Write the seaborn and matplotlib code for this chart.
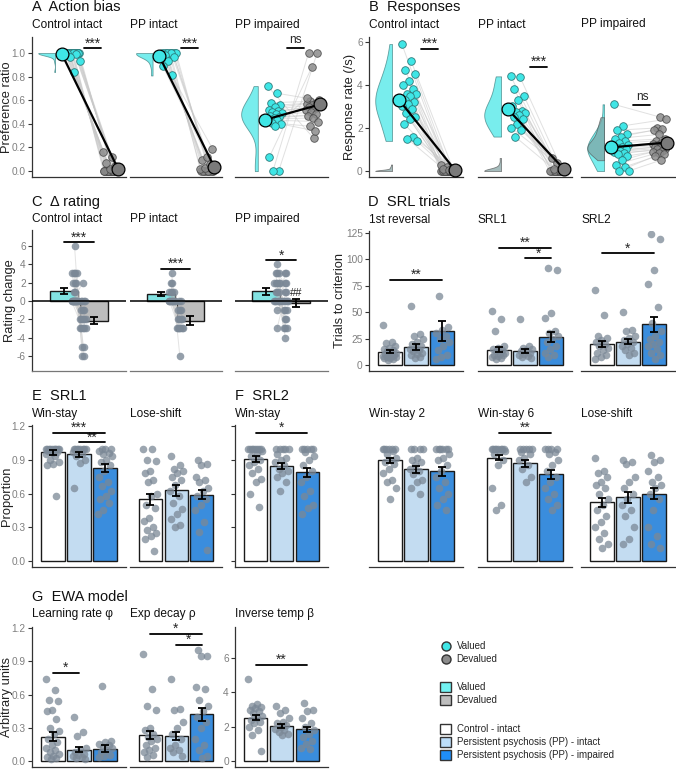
import numpy as np
import pandas as pd
import matplotlib.pyplot as plt
import seaborn as sns
from matplotlib.lines import Line2D
from matplotlib.patches import Patch

# ---- A: action bias (preference ratio), valued vs devalued ----
a_ctrl_val = [1.0] * 19 + [0.99, 0.97, 0.93, 0.84]
a_ctrl_dev = [0.0] * 18 + [0.02, 0.04, 0.07, 0.12, 0.16]
a_ppi_val = [1.0] * 10 + [0.98, 0.97, 0.93, 0.89, 0.81]
a_ppi_dev = [0.0] * 9 + [0.02, 0.03, 0.06, 0.09, 0.12, 0.19]
a_ppm_val = [0.72, 0.66, 0.58, 0.56, 0.54, 0.52, 0.51, 0.5, 0.49, 0.48, 0.47,
             0.46, 0.45, 0.44, 0.43, 0.41, 0.40, 0.38, 0.12, 0.0, 0.0]
a_ppm_dev = [0.28, 0.6, 0.59, 0.58, 0.57, 0.56, 0.55, 0.54, 0.53, 0.52, 0.5,
             0.48, 0.47, 0.45, 0.42, 0.38, 0.34, 0.62, 0.88, 1.0, 1.0]

# ---- B: response rate (/s) ----
b_ctrl_val = [5.9, 5.1, 4.7, 4.5, 4.2, 4.0, 3.8, 3.6, 3.6, 3.5, 3.3, 3.2, 3.1,
              3.0, 2.9, 2.7, 2.5, 2.4, 2.2, 1.6, 1.5, 1.4]
b_ctrl_dev = [0.0] * 17 + [0.3, 0.2, 0.15, 0.1, 0.05]
b_ppi_val = [4.4, 4.35, 3.8, 3.5, 3.3, 3.0, 2.8, 2.75, 2.7, 2.6, 2.5, 2.4, 2.2,
             2.0, 1.9, 1.6]
b_ppi_dev = [0.0] * 12 + [0.6, 0.35, 0.2, 0.1]
b_ppm_val = [3.1, 2.1, 1.9, 1.7, 1.6, 1.5, 1.4, 1.3, 1.2, 1.1, 1.05, 1.0, 0.95,
             0.9, 0.85, 0.8, 0.7, 0.5, 0.3, 0.2, 0.0, 0.0]
b_ppm_dev = [2.5, 2.4, 2.0, 1.95, 1.9, 1.7, 1.5, 1.4, 1.3, 1.25, 1.2, 1.15, 1.1,
             1.05, 1.0, 1.0, 0.95, 0.9, 0.85, 0.8, 0.7, 0.5]

# ---- C: rating change, bars = mean, whiskers = SEM ----
c_means = [[1.12, -2.15], [0.74, -2.15], [1.05, -0.25]]
c_sems = [[0.33, 0.4], [0.25, 0.5], [0.38, 0.43]]
c_ctrl_val = [6, 3, 3, 3, 3, 2, 2, 2, 1, 1] + [0] * 12
c_ctrl_dev = [-6, -3, -5, -2, -6, -1, -3, -2, 0, -5, -3, -2, 2, -1, -2, -3, -1,
              0, -2, -3, 0, 0]
c_ppi_val = [3, 2, 2, 1, 1, 1, 1] + [0] * 9
c_ppi_dev = [-6, -3, -2, -1, -3, -2, -1, 0, -3, -2, -3, -1, 0, -3, -2, -3]
c_ppm_val = [4, 3, 3, 3, 2, 2, 2, 2, 1, 1, 1, 0, 0, 0, 0, 0, 0, -1, -3, 2]
c_ppm_dev = [0, -3, 2, 3, -1, 0, -2, -3, 1, -4, 0, -1, 3, 2, -3, 0, -2, -1, 1, 0]

# ---- D: trials to criterion (control, PP intact, PP impaired) ----
d_rev_mean, d_rev_sem = [12.8, 17.5, 32.3], [1.7, 2.7, 9.0]
d_srl1_mean, d_srl1_sem = [14.6, 13.3, 26.6], [2.5, 2.0, 4.5]
d_srl2_mean, d_srl2_sem = [20.3, 22.2, 38.8], [3.0, 2.5, 7.0]
d_rev_pts = [[38, 22, 21, 18, 16, 15, 14, 13, 12, 12, 11, 10, 10, 9, 9, 8, 8, 7, 7, 6, 5],
             [56, 29, 28, 25, 22, 20, 18, 16, 15, 14, 13, 12, 11, 10, 8, 7],
             [65, 36, 33, 30, 28, 25, 22, 18, 14, 10, 8, 6]]
d_srl1_pts = [[51, 44, 32, 18, 16, 15, 14, 13, 12, 11, 10, 10, 9, 8, 7, 6],
              [44, 18, 16, 15, 14, 13, 12, 11, 10, 9, 8, 7],
              [92, 90, 49, 45, 32, 30, 28, 25, 22, 18, 15, 12, 10, 8]]
d_srl2_pts = [[71, 47, 28, 26, 24, 22, 20, 18, 16, 14, 12, 10, 8, 6],
              [50, 33, 32, 28, 26, 24, 22, 20, 18, 16, 14, 12, 10],
              [124, 119, 90, 77, 55, 40, 32, 28, 25, 22, 20, 18, 15, 12, 10, 6]]

# ---- E / F: win-stay / lose-shift proportions ----
e_ws_mean, e_ws_sem = [0.965, 0.947, 0.829], [0.022, 0.02, 0.035]
e_ls_mean, e_ls_sem = [0.55, 0.627, 0.59], [0.05, 0.045, 0.04]
f_ws_mean, f_ws_sem = [0.906, 0.846, 0.787], [0.025, 0.025, 0.04]
f_ws2_mean, f_ws2_sem = [0.894, 0.814, 0.796], [0.025, 0.03, 0.04]
f_ws6_mean, f_ws6_sem = [0.92, 0.867, 0.77], [0.025, 0.03, 0.04]
f_ls_mean, f_ls_sem = [0.523, 0.567, 0.6], [0.04, 0.05, 0.05]
e_ws_pts = [[1.0] * 10 + [0.98, 0.97, 0.96, 0.95, 0.93, 0.9, 0.88, 0.86, 0.85, 0.58],
            [1.0] * 8 + [0.97, 0.95, 0.93, 0.9, 0.87, 0.65],
            [1, 1, 1, 0.98, 0.96, 0.95, 0.93, 0.9, 0.88, 0.85, 0.8, 0.75, 0.7, 0.67,
             0.62, 0.58, 0.55, 0.52, 0.45, 0.42]]
e_ls_pts = [[1, 1, 0.9, 0.89, 0.8, 0.78, 0.72, 0.7, 0.6, 0.58, 0.5, 0.47, 0.38, 0.36,
             0.3, 0.28, 0.25, 0.22, 0.2, 0.09],
            [0.93, 0.85, 0.82, 0.8, 0.78, 0.75, 0.72, 0.68, 0.62, 0.58, 0.52, 0.46,
             0.42, 0.37, 0.32, 0.3],
            [0.9, 0.86, 0.85, 0.75, 0.72, 0.7, 0.65, 0.62, 0.58, 0.55, 0.5, 0.45, 0.35,
             0.26, 0.1]]
f_ws_pts = [[1.0] * 8 + [0.98, 0.95, 0.93, 0.9, 0.88, 0.85, 0.82, 0.78, 0.73, 0.7, 0.6, 0.48],
            [1.0] * 5 + [0.95, 0.92, 0.9, 0.88, 0.85, 0.82, 0.8, 0.78, 0.75, 0.7, 0.62],
            [1.0] * 5 + [0.97, 0.93, 0.9, 0.85, 0.8, 0.75, 0.7, 0.62, 0.58, 0.5, 0.47, 0.42]]
f_ws2_pts = [[1.0] * 6 + [0.98, 0.95, 0.92, 0.9, 0.88, 0.86, 0.82, 0.78, 0.72, 0.7, 0.65, 0.55],
             [1.0] * 4 + [0.92, 0.9, 0.88, 0.85, 0.82, 0.8, 0.77, 0.72, 0.7, 0.65, 0.6],
             [1.0] * 6 + [0.95, 0.92, 0.9, 0.85, 0.8, 0.75, 0.7, 0.65, 0.6, 0.55, 0.5, 0.45]]
f_ws6_pts = [[1.0] * 8 + [0.98, 0.97, 0.95, 0.9, 0.85, 0.65, 0.5, 0.45],
             [1.0] * 5 + [0.97, 0.95, 0.92, 0.9, 0.85, 0.82, 0.75, 0.7],
             [1.0] * 4 + [0.97, 0.95, 0.9, 0.85, 0.8, 0.75, 0.7, 0.65, 0.6, 0.55, 0.5, 0.45]]
f_ls_pts = [[0.92, 0.8, 0.78, 0.75, 0.7, 0.68, 0.65, 0.6, 0.55, 0.5, 0.45, 0.4, 0.35,
             0.3, 0.25, 0.2, 0.15, 0.12],
            [0.9, 0.88, 0.86, 0.75, 0.7, 0.65, 0.6, 0.55, 0.5, 0.45, 0.4, 0.3, 0.2, 0.15],
            [0.94, 0.9, 0.88, 0.8, 0.75, 0.7, 0.68, 0.65, 0.6, 0.55, 0.45, 0.3, 0.22,
             0.15, 0.12]]

# ---- G: EWA model parameters ----
g_lr_mean, g_lr_sem = [0.22, 0.105, 0.114], [0.04, 0.025, 0.03]
g_ed_mean, g_ed_sem = [0.234, 0.228, 0.423], [0.035, 0.035, 0.06]
g_it_mean, g_it_sem = [2.53, 2.07, 1.85], [0.15, 0.12, 0.15]
g_lr_pts = [[0.74, 0.64, 0.55, 0.54, 0.46, 0.45, 0.38, 0.3, 0.27, 0.25, 0.2, 0.17,
             0.15, 0.12, 0.1, 0.08, 0.07, 0.05, 0.04, 0.03, 0.02],
            [0.4, 0.26, 0.23, 0.12, 0.1, 0.08, 0.07, 0.06, 0.05, 0.04, 0.03, 0.02],
            [0.68, 0.18, 0.17, 0.16, 0.15, 0.13, 0.12, 0.1, 0.08, 0.06, 0.05, 0.04]]
g_ed_pts = [[0.97, 0.65, 0.5, 0.46, 0.3, 0.28, 0.25, 0.22, 0.2, 0.18, 0.15, 0.12,
             0.1, 0.08, 0.06, 0.04],
            [0.74, 0.47, 0.46, 0.35, 0.3, 0.25, 0.2, 0.15, 0.12, 0.1, 0.08, 0.05],
            [1.0, 0.95, 0.95, 0.67, 0.65, 0.55, 0.5, 0.45, 0.4, 0.35, 0.3, 0.2, 0.15,
             0.1, 0.05, 0.03]]
g_it_pts = [[4.8, 3.3, 3.2, 3.15, 3.1, 3.0, 2.9, 2.8, 2.6, 2.5, 2.4, 2.3, 2.2, 2.0,
             1.8, 1.5, 0.6],
            [3.2, 3.0, 2.8, 2.5, 2.3, 2.2, 2.1, 2.0, 1.9, 1.8, 1.7, 1.6, 1.5],
            [3.4, 3.0, 2.9, 2.5, 2.2, 2.0, 1.8, 1.6, 1.4, 1.2, 1.0, 0.8, 0.7]]

group_labels = ["Control - intact", "Persistent psychosis (PP) - intact",
                "Persistent psychosis (PP) - impaired"]

# colours
CYAN = "#3FE6E6"
CYAN_BAR = "#72F2F2"
GREY_PT = "#8C8C8C"
GREY_BAR = "#BDBDBD"
DOT = "#7B8896"
GROUP_COLORS = ["#FFFFFF", "#BCDDF8", "#1F8EF8"]
SPINE = "#333333"
TICK = "#7F7F7F"

sns.set_theme(style="ticks")
plt.rcParams["font.family"] = ["Liberation Sans", "DejaVu Sans"]

W, H = 676, 769
fig = plt.figure(figsize=(W / 100, H / 100), dpi=100)

LEFT = [(32, 126), (130, 222), (235, 328)]
RIGHT = [(369, 463), (478, 572), (581, 675)]


def place(cols, y0, y1):
    x0, x1 = cols
    return fig.add_axes([x0 / W, 1 - y1 / H, (x1 - x0) / W, (y1 - y0) / H])


def spread(n, lo, hi, seed=0.0):
    # deterministic low-discrepancy horizontal offsets
    return lo + (hi - lo) * ((np.arange(n) * 0.618034 + seed) % 1)


def style(ax, ylim, ticks=None, fmt="{:.1f}", left=True, labels=True):
    ax.set_ylim(*ylim)
    sns.despine(ax=ax, left=not left)
    ax.set_xticks([])
    ax.set_xlabel("")
    ax.set_ylabel("")
    ax.set_facecolor("none")
    for s in ("left", "bottom"):
        ax.spines[s].set_color(SPINE)
        ax.spines[s].set_linewidth(0.9)
    if left:
        ax.set_yticks(ticks, labels=[fmt.format(t) if labels else "" for t in ticks])
        ax.tick_params(axis="y", length=3, width=0.8, color=SPINE,
                       labelcolor=TICK, labelsize=7.3, pad=1.5)
    else:
        ax.set_yticks([])


def sig(ax, x0, x1, y, text):
    ax.plot([x0, x1], [y, y], color="black", lw=1.3, zorder=5)
    if text == "ns":
        ax.annotate(text, ((x0 + x1) / 2, y), xytext=(0, 1.5), textcoords="offset points",
                    ha="center", va="bottom", fontsize=8.5)
    else:
        ax.annotate(text, ((x0 + x1) / 2, y), xytext=(0, -1.5), textcoords="offset points",
                    ha="center", va="bottom", fontsize=10)


def half_violin(ax, values, color, edge, base=0.875, width=0.3):
    v = np.asarray(values, dtype=float)
    bw = max(1.06 * v.std(ddof=1) * len(v) ** -0.2, 1e-3)
    grid = np.linspace(v.min(), v.max(), 300)
    dens = np.exp(-0.5 * ((grid[:, None] - v[None, :]) / bw) ** 2).sum(axis=1)
    dens = dens / dens.max() * width
    ax.fill_betweenx(grid, base - dens, base, facecolor=color, edgecolor=edge,
                     linewidth=0.6, alpha=0.7, zorder=1)


def raincloud(ax, val, dev, dev_density):
    val = np.asarray(val, float)
    dev = np.asarray(dev, float)
    xv = 1 + spread(len(val), 0.05, 0.32)
    xd = 2 - spread(len(dev), 0.02, 0.27, 0.4)
    ax.plot(np.vstack([xv, xd]), np.vstack([val, dev]), color="#C8C8C8",
            lw=0.7, alpha=0.55, zorder=1)
    half_violin(ax, val, CYAN, "#3A7C7C")
    if dev_density:
        half_violin(ax, dev, "#7FA0A0", "#555555")
    sns.scatterplot(x=xv, y=val, color=CYAN, edgecolor="#2E7A7A", s=30,
                    linewidth=0.6, ax=ax, zorder=3)
    sns.scatterplot(x=xd, y=dev, color=GREY_PT, edgecolor="#444444", s=30,
                    linewidth=0.6, alpha=0.85, ax=ax, zorder=3)
    means = [val.mean(), dev.mean()]
    ax.plot([1, 2], means, color="black", lw=1.6, zorder=4)
    sns.scatterplot(x=[1], y=[means[0]], color=CYAN, edgecolor="black", s=85,
                    linewidth=0.9, ax=ax, zorder=5)
    sns.scatterplot(x=[2], y=[means[1]], color="#7A7A7A", edgecolor="black", s=85,
                    linewidth=0.9, ax=ax, zorder=5)
    ax.set_xlim(0.464, 2.14)


def bar_panel(ax, means, sems, pts, colors, width=0.9):
    pos = np.arange(len(means))
    df = pd.DataFrame({"pos": pos, "mean": means})
    sns.barplot(data=df, x="pos", y="mean", hue="pos", palette=colors,
                native_scale=True, width=width, edgecolor="#1A1A1A", linewidth=1.0,
                errorbar=None, legend=False, ax=ax, zorder=1)
    for i, p in enumerate(pts):
        sns.scatterplot(x=i + spread(len(p), -0.28, 0.28, 0.13 * i), y=p, color=DOT,
                        alpha=0.75, s=30, linewidth=0, ax=ax, zorder=2)
    ax.errorbar(pos, means, yerr=sems, fmt="none", ecolor="black", elinewidth=1.3,
                capsize=3.2, capthick=1.3, zorder=4)
    ax.set_xlim(-0.8, 2.8)


def swarm_x(vals, base, step=0.05, cap=0.1):
    vals = np.asarray(vals, float)
    x = np.empty(len(vals))
    for v in np.unique(vals):
        idx = np.where(vals == v)[0]
        w = min(step * (len(idx) - 1) / 2, cap)
        x[idx] = base + np.linspace(-w, w, len(idx))
    return x


def title(x, y, text, size=10.5):
    fig.text(x / W, 1 - y / H, text, fontsize=size, va="baseline", ha="left",
             color="#111111")


def ylabel(x, y0, y1, text):
    fig.text(x / W, 1 - (y0 + y1) / 2 / H, text, rotation=90, fontsize=9.3,
             ha="center", va="center", color="#222222")


SUB = 8.6
subs3 = ["Control intact", "PP intact", "PP impaired"]

# ---- Panel A ----
title(32, 10.7, "A  Action bias")
for i, (cols, val, dev, s) in enumerate(zip(
        LEFT, [a_ctrl_val, a_ppi_val, a_ppm_val], [a_ctrl_dev, a_ppi_dev, a_ppm_dev],
        ["***", "***", "ns"])):
    ax = place(cols, 37, 177)
    raincloud(ax, val, dev, dev_density=False)
    style(ax, (-0.05, 1.136), [0, 0.2, 0.4, 0.6, 0.8, 1.0], left=(i == 0))
    sig(ax, 1.4, 1.7, 1.04, s)
    title(cols[0], 28, subs3[i], size=SUB)
ylabel(7, 37, 177, "Preference ratio")

# ---- Panel B ----
title(369, 10.5, "B  Responses")
for i, (cols, val, dev, s, y) in enumerate(zip(
        RIGHT, [b_ctrl_val, b_ppi_val, b_ppm_val], [b_ctrl_dev, b_ppi_dev, b_ppm_dev],
        ["***", "***", "ns"], [5.67, 4.84, 3.07])):
    ax = place(cols, 37, 177)
    raincloud(ax, val, dev, dev_density=True)
    style(ax, (-0.28, 6.23), [0, 2, 4, 6], fmt="{:.0f}", left=(i == 0))
    sig(ax, 1.4, 1.7, y, s)
    title(cols[0], 27.5, subs3[i], size=SUB)
ylabel(350, 37, 177, "Response rate (/s)")

# ---- Panel C ----
title(32, 205.7, "C  \u0394 rating")
c_vals = [(c_ctrl_val, c_ctrl_dev), (c_ppi_val, c_ppi_dev), (c_ppm_val, c_ppm_dev)]
for i, (cols, (val, dev), m, e, s, y) in enumerate(zip(
        LEFT, c_vals, c_means, c_sems, ["***", "***", "*"], [6.4, 3.47, 4.44])):
    ax = place(cols, 230, 371)
    df = pd.DataFrame({"pos": [0, 1], "mean": m})
    sns.barplot(data=df, x="pos", y="mean", hue="pos", palette=[CYAN_BAR, GREY_BAR],
                native_scale=True, width=0.94, edgecolor="#1A1A1A", linewidth=1.0,
                errorbar=None, legend=False, ax=ax, zorder=1)
    xv = swarm_x(val, 0.36)
    xd = swarm_x(dev, 0.64)
    ax.plot(np.vstack([xv, xd]), np.vstack([val, dev]), color="#C8C8C8", lw=0.7,
            alpha=0.5, zorder=2)
    sns.scatterplot(x=np.concatenate([xv, xd]), y=list(val) + list(dev), color=DOT,
                    alpha=0.8, s=30, linewidth=0, ax=ax, zorder=3)
    ax.errorbar([0, 1], m, yerr=e, fmt="none", ecolor="black", elinewidth=1.3,
                capsize=3.2, capthick=1.3, zorder=4)
    ax.axhline(0, color="black", lw=1.1, zorder=3)
    ax.set_xlim(-1.06, 2.08)
    style(ax, (-7.65, 7.74), [-6, -4, -2, 0, 2, 4, 6], fmt="{:.0f}", left=(i == 0))
    ax.spines["bottom"].set_color("#777777")
    sig(ax, 0.0, 1.0, y, s)
    if i == 2:
        ax.text(1.0, 0.9, "##", ha="center", va="center", fontsize=8, zorder=5)
    title(cols[0], 222.3, subs3[i], size=SUB)
ylabel(10, 230, 371, "Rating change")

# ---- Panel D ----
title(368, 205.7, "D  SRL trials")
d_sets = [(d_rev_mean, d_rev_sem, d_rev_pts), (d_srl1_mean, d_srl1_sem, d_srl1_pts),
          (d_srl2_mean, d_srl2_sem, d_srl2_pts)]
d_subs = ["1st reversal", "SRL1", "SRL2"]
d_sigs = [[(0, 2, 80.5, "**")], [(0, 2, 110.6, "**"), (1, 2, 100.6, "*")],
          [(0, 2, 105.4, "*")]]
for i, (cols, (m, e, p)) in enumerate(zip(RIGHT, d_sets)):
    ax = place(cols, 231, 371)
    bar_panel(ax, m, e, p, GROUP_COLORS)
    style(ax, (-5.4, 126.5), [0, 25, 50, 75, 100, 125], fmt="{:.0f}", left=(i == 0))
    for a, b, y, s in d_sigs[i]:
        sig(ax, a, b, y, s)
    title(cols[0], 222.7, d_subs[i], size=SUB)
ylabel(340, 231, 371, "Trials to criterion")

# ---- Panels E and F ----
title(32, 400, "E  SRL1")
title(235, 400, "F  SRL2")
ef_cols = LEFT + RIGHT
ef_sets = [(e_ws_mean, e_ws_sem, e_ws_pts), (e_ls_mean, e_ls_sem, e_ls_pts),
           (f_ws_mean, f_ws_sem, f_ws_pts), (f_ws2_mean, f_ws2_sem, f_ws2_pts),
           (f_ws6_mean, f_ws6_sem, f_ws6_pts), (f_ls_mean, f_ls_sem, f_ls_pts)]
ef_subs = ["Win-stay", "Lose-shift", "Win-stay", "Win-stay 2", "Win-stay 6", "Lose-shift"]
ef_sigs = [[(0, 2, 1.14, "***"), (1, 2, 1.054, "**")], [], [(0, 2, 1.14, "*")], [],
           [(0, 2, 1.14, "**")], []]
for i, (cols, (m, e, p)) in enumerate(zip(ef_cols, ef_sets)):
    ax = place(cols, 425, 567)
    bar_panel(ax, m, e, p, GROUP_COLORS)
    style(ax, (-0.053, 1.209), [0.0, 0.3, 0.6, 0.9, 1.2], left=(i in (0, 2)),
          labels=(i == 0))
    for a, b, y, s in ef_sigs[i]:
        sig(ax, a, b, y, s)
    title(cols[0], 416.7, ef_subs[i], size=SUB)
ylabel(7, 425, 567, "Proportion")

# ---- Panel G ----
title(32, 600.7, "G  EWA model")
g_sets = [(g_lr_mean, g_lr_sem, g_lr_pts), (g_ed_mean, g_ed_sem, g_ed_pts),
          (g_it_mean, g_it_sem, g_it_pts)]
g_subs = ["Learning rate \u03c6", "Exp decay \u03c1", "Inverse temp \u03b2"]
g_sigs = [[(0, 1, 0.80, "*")], [(0, 2, 1.15, "*"), (1, 2, 1.05, "*")],
          [(0, 2, 5.6, "**")]]
for i, (cols, (m, e, p)) in enumerate(zip(LEFT, g_sets)):
    ax = place(cols, 627, 767)
    bar_panel(ax, m, e, p, GROUP_COLORS)
    if i < 2:
        style(ax, (-0.051, 1.21), [0.0, 0.3, 0.6, 0.9, 1.2], left=(i == 0))
    else:
        style(ax, (-0.33, 7.79), [0, 2, 4, 6], fmt="{:.0f}")
    for a, b, y, s in g_sigs[i]:
        sig(ax, a, b, y, s)
    title(cols[0], 617.3, g_subs[i], size=SUB)
ylabel(7, 627, 767, "Arbitrary units")

# ---- Legends ----
leg_kw = dict(loc="upper left", frameon=False, fontsize=7, borderpad=0,
              borderaxespad=0, handletextpad=0.55, handlelength=1.15)
pt_handles = [Line2D([0], [0], marker="o", ls="none", markerfacecolor=CYAN,
                     markeredgecolor="#333333", markersize=6.5, label="Valued"),
              Line2D([0], [0], marker="o", ls="none", markerfacecolor=GREY_PT,
                     markeredgecolor="#333333", markersize=6.5, label="Devalued")]
fig.legend(handles=pt_handles, bbox_to_anchor=(440 / W, 1 - 641 / H),
           labelspacing=0.3, **leg_kw)
bar_handles = [Patch(facecolor=CYAN_BAR, edgecolor="#333333", label="Valued"),
               Patch(facecolor=GREY_BAR, edgecolor="#333333", label="Devalued")]
fig.legend(handles=bar_handles, bbox_to_anchor=(440 / W, 1 - 682 / H),
           labelspacing=0.25, handleheight=1.25, **leg_kw)
grp_handles = [Patch(facecolor=c, edgecolor="#333333", label=l)
               for c, l in zip(GROUP_COLORS, group_labels)]
fig.legend(handles=grp_handles, bbox_to_anchor=(440 / W, 1 - 724 / H),
           labelspacing=0.25, handleheight=1.25, **leg_kw)

fig.savefig("out.png", dpi=100)
